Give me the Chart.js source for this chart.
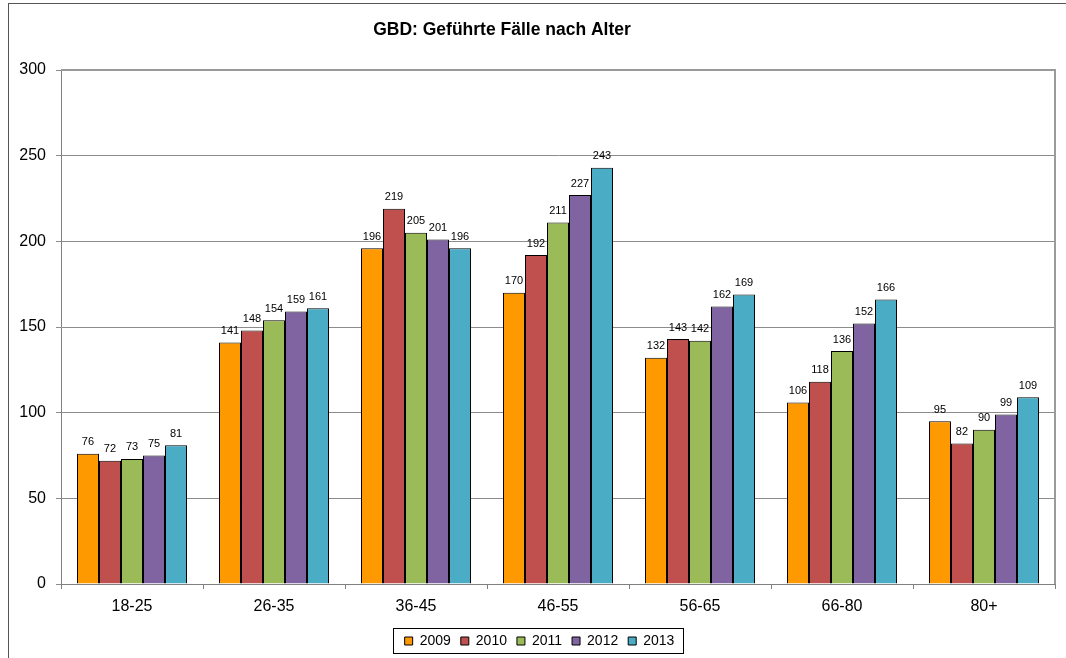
<!DOCTYPE html>
<html>
<head>
<meta charset="utf-8">
<script src="https://cdn.jsdelivr.net/npm/chart.js@4.4.0/dist/chart.umd.min.js"></script>
<style>
  html, body { margin: 0; padding: 0; background: #fff; }
  .wrap { position: relative; width: 1066px; height: 658px; overflow: hidden; }
  .frame { position: absolute; left: 8px; top: 3px; width: 1200px; height: 800px; border-left: 1px solid #555; border-top: 1px solid #555; }
  canvas { position: absolute; left: 0; top: 0; }
</style>
</head>
<body>
<div class="wrap">
  <div class="frame"></div>
  <canvas id="chart" width="1066" height="658"></canvas>
</div>
<script>
const chartTitle = 'GBD: Geführte Fälle nach Alter';
const ageGroups = ['18-25', '26-35', '36-45', '46-55', '56-65', '66-80', '80+'];
const years = ['2009', '2010', '2011', '2012', '2013'];

const cases2009 = [76, 141, 196, 170, 132, 106, 95];
const cases2010 = [72, 148, 219, 192, 143, 118, 82];
const cases2011 = [73, 154, 205, 211, 142, 136, 90];
const cases2012 = [75, 159, 201, 227, 162, 152, 99];
const cases2013 = [81, 161, 196, 243, 169, 166, 109];

const yTicks = [0, 50, 100, 150, 200, 250, 300];

const colors = ['#FF9900', '#C0504D', '#9BBB59', '#8064A2', '#4BACC6'];
const series = [cases2009, cases2010, cases2011, cases2012, cases2013];

const FONT = '"Liberation Sans", Arial, sans-serif';

// title + plot frame + legend box + value labels
const extras = {
  id: 'extras',
  afterLayout(chart) {
    // legend sits a bit right of centre in the original
    chart.legend.left += 12;
    chart.legend.right += 12;
  },
  afterDatasetsDraw(chart) {
    const ctx = chart.ctx;
    ctx.save();
    ctx.font = '11px ' + FONT;
    ctx.fillStyle = '#000';
    ctx.textAlign = 'center';
    ctx.textBaseline = 'bottom';
    chart.data.datasets.forEach((ds, i) => {
      chart.getDatasetMeta(i).data.forEach((bar, j) => {
        ctx.fillText(String(ds.data[j]), bar.x, bar.y - 6);
      });
    });
    ctx.restore();
  },
  afterDraw(chart) {
    const ctx = chart.ctx;
    const a = chart.chartArea;
    ctx.save();
    // top and right border of the plot
    ctx.strokeStyle = '#9a9a9a';
    ctx.lineWidth = 2;
    ctx.beginPath();
    ctx.moveTo(a.left, a.top);
    ctx.lineTo(a.right, a.top);
    ctx.lineTo(a.right, a.bottom);
    ctx.stroke();

    // title
    ctx.font = 'bold 17.5px ' + FONT;
    ctx.fillStyle = '#000';
    ctx.textAlign = 'center';
    ctx.textBaseline = 'middle';
    ctx.fillText(chartTitle, 502, 30);

    // box round the legend
    const hb = chart.legend.legendHitBoxes;
    if (hb && hb.length) {
      const l = Math.min(...hb.map(h => h.left));
      const r = Math.max(...hb.map(h => h.left + h.width));
      const t = Math.min(...hb.map(h => h.top));
      const b = Math.max(...hb.map(h => h.top + h.height));
      ctx.strokeStyle = '#000';
      ctx.lineWidth = 1;
      ctx.strokeRect(Math.round(l - 12) + 0.5, Math.round(t - 6) + 0.5, Math.round(r - l + 20), Math.round(b - t + 11));
    }
    ctx.restore();
  }
};

new Chart(document.getElementById('chart'), {
  type: 'bar',
  data: {
    labels: ageGroups,
    datasets: years.map((y, i) => ({
      label: y,
      data: series[i],
      backgroundColor: colors[i],
      borderColor: '#000',
      borderWidth: 1,
      categoryPercentage: 0.775,
      barPercentage: 1
    }))
  },
  options: {
    responsive: false,
    animation: false,
    layout: { padding: { left: 0, top: 70, right: 11, bottom: 0 } },
    plugins: {
      title: { display: false },
      tooltip: { enabled: false },
      legend: {
        position: 'bottom',
        labels: {
          boxWidth: 8,
          boxHeight: 8,
          padding: 10,
          color: '#000',
          font: { family: FONT, size: 14 },
          generateLabels(chart) {
            return chart.data.datasets.map((ds, i) => ({
              text: ds.label,
              fillStyle: ds.backgroundColor,
              strokeStyle: '#000',
              lineWidth: 1,
              datasetIndex: i
            }));
          }
        }
      }
    },
    scales: {
      x: {
        grid: { offset: true, drawOnChartArea: false, tickLength: 5, color: '#808080' },
        border: { color: '#808080', width: 1 },
        ticks: { color: '#000', font: { family: FONT, size: 16 }, padding: 8 },
        afterFit(scale) { scale.height = 40; }
      },
      y: {
        min: 0,
        max: 300,
        afterBuildTicks(scale) { scale.ticks = yTicks.map(v => ({ value: v })); },
        grid: { color: '#8c8c8c', tickLength: 5 },
        border: { color: '#808080', width: 1 },
        ticks: { color: '#000', font: { family: FONT, size: 16 }, padding: 10 },
        afterFit(scale) { scale.width = 61; }
      }
    }
  },
  plugins: [extras]
});
</script>
</body>
</html>
